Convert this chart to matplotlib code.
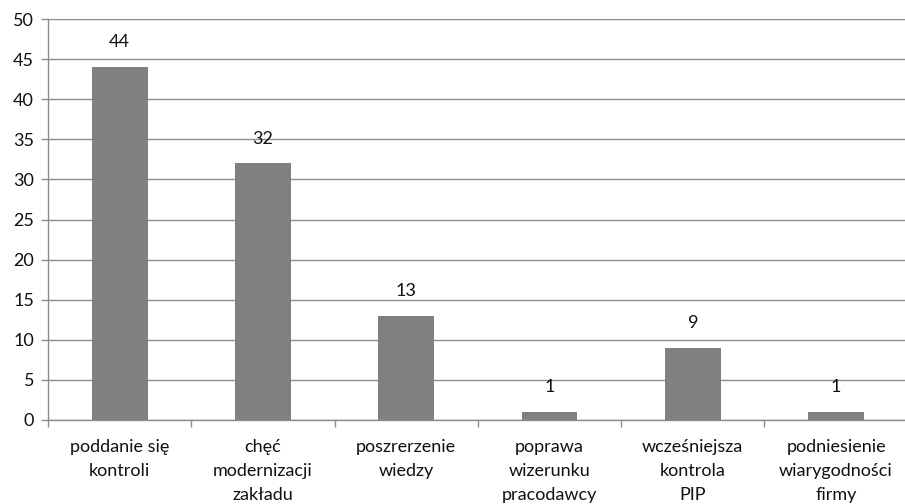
import numpy as np
import matplotlib as mpl
mpl.use('Agg')
import matplotlib.pyplot as plt

categories = [
    "poddanie się\nkontroli",
    "chęć\nmodernizacji\nzakładu",
    "poszrerzenie\nwiedzy",
    "poprawa\nwizerunku\npracodawcy",
    "wcześniejsza\nkontrola\nPIP",
    "podniesienie\nwiarygodności\nfirmy",
]
values = [44, 32, 13, 1, 9, 1]
y_ticks = list(range(0, 55, 5))

plt.rcParams['font.family'] = ['Lato', 'DejaVu Sans']
grey_line = "#8c8c8c"
bar_color = "#808080"
text_color = "#111111"

fig = plt.figure(figsize=(9.05, 5.04), dpi=100)
ax = fig.add_axes([0.053, 0.1667, 0.95, 0.7955])

x = np.arange(len(values))
bars = ax.bar(x, values, width=0.39, color=bar_color, zorder=3)
for b, v in zip(bars, values):
    ax.text(b.get_x() + b.get_width() / 2, v + 2.1, str(v),
            ha="center", va="bottom", fontsize=13, color=text_color)

ax.set_xlim(-0.5, len(values) - 0.5)
ax.set_ylim(0, 50)
ax.set_yticks(y_ticks)
ax.yaxis.grid(True, color=grey_line, linewidth=1.0, zorder=0)
ax.set_axisbelow(True)

# category boundaries carry the tick marks, labels sit centred between them
ax.set_xticks(np.arange(-0.5, len(values), 1.0))
ax.set_xticklabels([])
ax.set_xticks(x, minor=True)
ax.set_xticklabels(categories, minor=True, fontsize=13, color=text_color,
                   linespacing=1.6, va="top")
ax.tick_params(axis="x", which="major", length=5, color=grey_line, width=1)
ax.tick_params(axis="x", which="minor", length=0, pad=14)
ax.tick_params(axis="y", length=5, color=grey_line, width=1, pad=5,
               labelsize=13, labelcolor=text_color)

for side in ["top", "right"]:
    ax.spines[side].set_visible(False)
for side in ["left", "bottom"]:
    ax.spines[side].set_color(grey_line)
    ax.spines[side].set_linewidth(1.0)

fig.savefig("out.png", dpi=100)
